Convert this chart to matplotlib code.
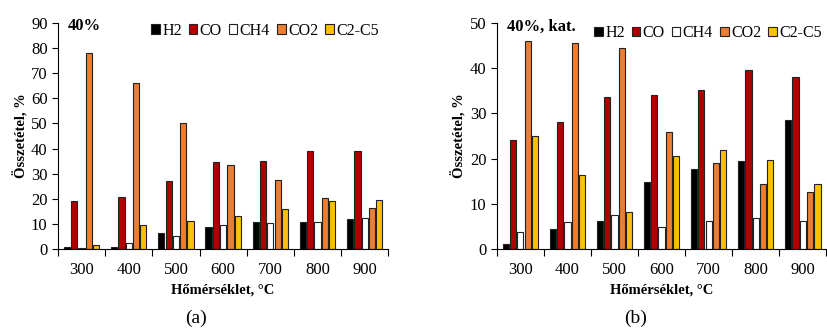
import numpy as np
import matplotlib.pyplot as plt

plt.rcParams['font.family'] = ['Liberation Serif', 'DejaVu Serif']

temps = ["300", "400", "500", "600", "700", "800", "900"]
gases = ["H2", "CO", "CH4", "CO2", "C2-C5"]
colors = ["#000000", "#B00000", "#FFFFFF", "#ED7D31", "#FFC000"]

# (a) 40%
a_h2 = [0.8, 1.0, 6.5, 8.9, 10.6, 10.7, 12.1]
a_co = [19.2, 20.6, 26.9, 34.6, 35.1, 38.9, 39.2]
a_ch4 = [0.3, 2.5, 5.2, 9.5, 10.5, 10.9, 12.3]
a_co2 = [78.2, 66.2, 50.0, 33.6, 27.6, 20.3, 16.5]
a_c2c5 = [1.6, 9.4, 11.3, 13.1, 16.1, 19.2, 19.6]

# (b) 40%, kat.
b_h2 = [1.2, 4.5, 6.1, 14.8, 17.8, 19.4, 28.6]
b_co = [24.2, 28.0, 33.6, 34.0, 35.1, 39.7, 38.0]
b_ch4 = [3.8, 5.9, 7.5, 4.8, 6.2, 6.9, 6.2]
b_co2 = [46.0, 45.5, 44.4, 25.9, 19.0, 14.3, 12.7]
b_c2c5 = [25.0, 16.3, 8.3, 20.6, 22.0, 19.8, 14.3]

fig = plt.figure(figsize=(8.28, 3.29), dpi=100)
ax1 = fig.add_axes([0.070, 0.243, 0.399, 0.687])
ax2 = fig.add_axes([0.600, 0.243, 0.398, 0.687])


def draw(ax, series, ymax, title, title_x, leg_x, leg_y):
    x = np.arange(len(temps))
    w = 0.155
    for k, vals in enumerate(series):
        ax.bar(x + (k - 2) * w, vals, w * 0.85, color=colors[k],
               edgecolor="#222222", linewidth=0.8, label=gases[k])
    ax.set_xlim(-0.5, len(temps) - 0.5)
    ax.set_ylim(0, ymax)
    ax.set_yticks(np.arange(0, ymax + 1, 10))
    ax.set_xticks(np.arange(-0.5, len(temps)), labels=[])
    ax.set_xticks(x, labels=temps, minor=True)
    ax.tick_params(axis="x", which="major", direction="out", length=5)
    ax.tick_params(axis="x", which="minor", length=0, pad=9, labelsize=12)
    ax.tick_params(axis="y", direction="out", length=4, labelsize=12)
    for s in ["top", "right"]:
        ax.spines[s].set_visible(False)
    ax.set_xlabel("Hőmérséklet, °C", fontweight="bold", fontsize=10.5, labelpad=4)
    ax.set_ylabel("Összetétel, %", fontweight="bold", fontsize=10.5, labelpad=2)
    ax.text(title_x, 0.985, title, transform=ax.transAxes, fontweight="bold",
            fontsize=12, va="center", ha="left")
    ax.legend(loc="center right", bbox_to_anchor=(leg_x, leg_y), ncol=5, frameon=False,
              handlelength=0.55, handleheight=0.55, handletextpad=0.15,
              columnspacing=0.42, fontsize=11.5, borderaxespad=0)


draw(ax1, [a_h2, a_co, a_ch4, a_co2, a_c2c5], 90, "40%", 0.03, 0.99, 0.965)
draw(ax2, [b_h2, b_co, b_ch4, b_co2, b_c2c5], 50, "40%, kat.", 0.03, 1.005, 0.955)

fig.text(196 / 828, 1 - 318 / 329, "(a)", fontsize=14, ha="center", va="center")
fig.text(636 / 828, 1 - 318 / 329, "(b)", fontsize=14, ha="center", va="center")

fig.savefig("out.png", dpi=100)
